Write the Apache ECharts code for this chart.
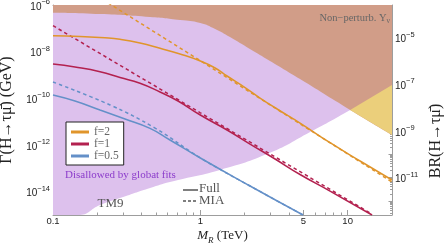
<!DOCTYPE html>
<html><head><meta charset="utf-8">
<script src="https://cdn.jsdelivr.net/npm/echarts@6/dist/echarts.min.js"></script>
<style>html,body{margin:0;padding:0;background:#fff}#c{width:446px;height:243px}</style>
</head><body><div id="c"></div>
<script>
const SANS = '"Liberation Sans", Arial, sans-serif';
const SERIF = '"Liberation Serif", "Times New Roman", serif';

// axis extents
const X_MIN = 0.1, X_MAX = 20, Y_MIN = 1e-15, Y_MAX = 1e-6;
const GAMMA_H = 4.07e-3; // total Higgs width (GeV): BR = Gamma / GAMMA_H

// ticks and tick labels
const xTickLabels = [0.1, 1, 5, 10];
const xMajorTicks = [0.1, 1, 5, 10];
const xMinorTicks = [0.2, 0.3, 0.4, 0.5, 0.6, 0.7, 0.8, 0.9, 2, 3, 4, 6, 7, 8, 9, 20];
const gammaTickLabels = [1e-14, 1e-12, 1e-10, 1e-8, 1e-6];
const gammaOddTicks = [1e-15, 1e-13, 1e-11, 1e-9, 1e-7];
const brTickLabels = [1e-11, 1e-9, 1e-7, 1e-5];
const brOtherTicks = [1e-12, 1e-10, 1e-8, 1e-6, 1e-4];

// series: [M_R (TeV), Gamma (GeV)]
const f2Full = [[0.1,4.83e-8],[0.1525,4.47e-8],[0.2254,3.93e-8],[0.285,3.39e-8],[0.3896,2.35e-8],[0.5326,1.39e-8],[0.728,7.94e-9],[1.0,3.98e-9],[1.26,2.0e-9],[1.518,9.06e-10],[2.012,2.91e-10],[2.543,1.03e-10],[3.317,3.49e-11],[4.753,8.75e-12],[7.596,1.25e-12],[12.14,2.06e-13],[20,3.16e-14]];
const f2MIA  = [[0.1,3.7e-5],[1,4.1e-9],[20,2.6e-14]];
const f1Full = [[0.1,2.96e-9],[0.141,2.2e-9],[0.2085,1.38e-9],[0.285,7.8e-10],[0.3896,4.4e-10],[0.5326,1.87e-10],[0.7057,7.67e-11],[1.0,1.93e-11],[1.518,4.39e-12],[2.175,1.1e-12],[3.215,2.51e-13],[4.753,5.43e-14],[7.596,1.06e-14],[14.65,1e-15]];
const f1MIA  = [[0.1,1.3e-7],[1,2.4e-11],[14.6,1.1e-15]];
const f05Full = [[0.1,1.39e-10],[0.141,7.67e-11],[0.2085,3.16e-11],[0.3083,1.3e-11],[0.4556,5.19e-12],[0.6225,1.64e-12],[1.0,2.77e-13],[2.175,1.75e-14],[4.98,1e-15]];
const f05MIA  = [[0.1,5.0e-10],[0.244,5.2e-11],[0.493,5.3e-12],[1.0,2.8e-13],[2.175,1.75e-14],[4.98,1e-15]];

// region boundaries: [M_R, Gamma]
const nonPerturbEdge = [[0.1,4.7e-7],[0.209,4.1e-7],[0.456,3.06e-7],[0.728,2.28e-7],[1.0,1.7e-7],[1.26,9.4e-8],[1.59,4.2e-8],[2.17,1.3e-8],[2.97,4.0e-9],[4.75,6.7e-10],[10.4,3.2e-11],[20,2.7e-12]];
const globalFitEdge = [[0.148,1e-15],[0.209,2.7e-15],[0.299,5.9e-15],[0.456,1.44e-14],[0.622,2.6e-14],[1.36,8.5e-14],[2.97,4.6e-13],[5.56,3.6e-12],[10.4,3.2e-11],[20,3.7e-10]];

const ORANGE = '#E0952B', CRIMSON = '#B3214F', BLUE = '#6490C8';
const PURPLE = '#DDC1ED', BROWN = '#D19D88', YELLOW = '#EBCF7B';
const AX = '#9d9d9d';

function minorDecadeTicks(lo, hi) {
  const out = [];
  for (let e = lo; e <= hi; e++) for (let k = 2; k <= 9; k++) out.push(+(k + 'e' + e));
  return out;
}

function expFmt(v) {
  const e = Math.round(Math.log10(v));
  return '{b|10}{s|' + (e < 0 ? '\u2212' : '') + Math.abs(e) + '}';
}
const expRich = {
  b: {fontSize: 10, fontFamily: SANS, color: '#222', verticalAlign: 'bottom', padding: [4, 0, 0, 0]},
  s: {fontSize: 7.5, fontFamily: SANS, color: '#222', verticalAlign: 'top'}
};

function xAx(position, ticks, len, labels, showLine) {
  return {
    type: 'log', logBase: 10, min: X_MIN, max: X_MAX, position,
    axisLine: {show: showLine, onZero: false, lineStyle: {color: AX, width: 1}},
    axisTick: {show: true, inside: true, length: len, customValues: ticks, lineStyle: {color: AX, width: 1}},
    axisLabel: labels ? {show: true, customValues: labels, margin: 1, fontSize: 9.5, fontFamily: SANS, color: '#222',
      formatter: v => String(+(+v).toPrecision(3))} : {show: false},
    splitLine: {show: false}, minorTick: {show: false}, minorSplitLine: {show: false}
  };
}
function yAx(position, min, max, ticks, len, labels, showLine) {
  return {
    type: 'log', logBase: 10, min, max, position,
    axisLine: {show: showLine, onZero: false, lineStyle: {color: AX, width: 1}},
    axisTick: {show: true, inside: true, length: len, customValues: ticks, lineStyle: {color: AX, width: 1}},
    axisLabel: labels ? {show: true, customValues: labels, margin: 3, formatter: expFmt, rich: expRich} : {show: false},
    splitLine: {show: false}, minorTick: {show: false}, minorSplitLine: {show: false}
  };
}

const BR_MIN = Y_MIN / GAMMA_H, BR_MAX = Y_MAX / GAMMA_H;

const xAxes = [
  xAx('bottom', xMajorTicks, 5, xTickLabels, true),
  xAx('bottom', xMinorTicks, 2.5, null, false),
  xAx('top', xMajorTicks, 5, null, true),
  xAx('top', xMinorTicks, 2.5, null, false)
];
Object.assign(xAxes[0], {
  name: '{i|M}{r|R}{n| (TeV)}', nameLocation: 'middle', nameGap: 14, nameMoveOverlap: false,
  nameTextStyle: {rich: {
    i: {fontFamily: SERIF, fontStyle: 'italic', fontSize: 13, color: '#222', verticalAlign: 'top'},
    r: {fontFamily: SERIF, fontStyle: 'italic', fontSize: 9, color: '#222', verticalAlign: 'bottom', padding: [7, 0, 0, 0]},
    n: {fontFamily: SERIF, fontSize: 13, color: '#222', verticalAlign: 'top'}
  }}
});

const yAxes = [
  yAx('left', Y_MIN, Y_MAX, gammaTickLabels, 5, gammaTickLabels, true),
  yAx('left', Y_MIN, Y_MAX, gammaOddTicks, 3.5, null, false),
  yAx('left', Y_MIN, Y_MAX, minorDecadeTicks(-16, -7), 2, null, false),
  yAx('right', BR_MIN, BR_MAX, brTickLabels, 5, brTickLabels, true),
  yAx('right', BR_MIN, BR_MAX, brOtherTicks, 3.5, null, false),
  yAx('right', BR_MIN, BR_MAX, minorDecadeTicks(-14, -5), 2, null, false)
];
Object.assign(yAxes[0], {
  name: '\u0393(H\u2192\u03C4\u03BC\u0304) (GeV)', nameLocation: 'middle', nameGap: 31, nameRotate: 90,
  nameTextStyle: {fontFamily: SERIF, fontSize: 16, color: '#222'}
});

// shaded region above a boundary curve (filled up to the top of the axis)
function regionAbove(name, pts, color) {
  return {
    type: 'line', name, data: pts, xAxisIndex: 0, yAxisIndex: 0, symbol: 'none', showSymbol: false,
    smooth: 0.5, silent: true, clip: true, z: 1,
    lineStyle: {width: 0, color}, itemStyle: {color},
    areaStyle: {color, opacity: 1, origin: 'end'}
  };
}
function polygonRegion(name, pts, color) {
  return {
    type: 'custom', name, silent: true, clip: true, coordinateSystem: 'cartesian2d',
    xAxisIndex: 0, yAxisIndex: 0, data: pts, encode: {x: 0, y: 1}, z: 1,
    renderItem: (params, api) => {
      if (params.dataIndex !== 0) return null;
      return {type: 'polygon', shape: {points: pts.map(p => api.coord(p))}, style: {fill: color}};
    }
  };
}
const purpleEdge = [[X_MIN, Y_MIN]].concat(globalFitEdge);
const yellowPoly = [globalFitEdge[globalFitEdge.length - 2], globalFitEdge[globalFitEdge.length - 1], nonPerturbEdge[nonPerturbEdge.length - 1]];

function line(name, data, color, dashed, smooth) {
  return {
    type: 'line', name, data, xAxisIndex: 0, yAxisIndex: 0, symbol: 'none', showSymbol: false,
    smooth: smooth, clip: true, z: 5,
    lineStyle: {color, width: 1.5, type: dashed ? [3.5, 3] : 'solid'}, itemStyle: {color}
  };
}

const chart = echarts.init(document.getElementById('c'), null, {renderer: 'canvas'});
chart.setOption({
  animation: false,
  backgroundColor: '#fff',
  grid: {left: 53, right: 54, top: 5, bottom: 28, containLabel: false, outerBoundsMode: 'none'},
  xAxis: xAxes,
  yAxis: yAxes,
  legend: {
    data: ['f=2', 'f=1', 'f=0.5'], orient: 'vertical', left: 66, top: 122,
    padding: [4, 5, 3, 5], itemGap: 0, itemWidth: 18, itemHeight: 3, icon: 'rect',
    backgroundColor: '#fff', borderColor: '#222', borderWidth: 1, borderRadius: 0, selectedMode: false,
    textStyle: {fontFamily: SERIF, fontSize: 11.5, color: '#666', lineHeight: 11}
  },
  series: [
    regionAbove('purple', purpleEdge, PURPLE),
    regionAbove('brown', nonPerturbEdge, BROWN),
    polygonRegion('yellow', yellowPoly, YELLOW),
    line('f=2 MIA', f2MIA, ORANGE, true, false),
    line('f=1 MIA', f1MIA, CRIMSON, true, false),
    line('f=0.5 MIA', f05MIA, BLUE, true, 0.4),
    line('f=2', f2Full, ORANGE, false, 0.5),
    line('f=1', f1Full, CRIMSON, false, 0.5),
    line('f=0.5', f05Full, BLUE, false, 0.5)
  ],
  graphic: [
    {type: 'text', x: 436, y: 141, rotation: Math.PI / 2, z: 100,
     style: {text: 'BR(H\u2192\u03C4\u03BC\u0304)', font: '16px ' + SERIF, fill: '#222', align: 'center', verticalAlign: 'middle'}},
    {type: 'text', x: 65, y: 175, z: 100,
     style: {text: 'Disallowed by globat fits', font: '11px ' + SERIF, fill: '#8C3CCB', align: 'left', verticalAlign: 'middle'}},
    {type: 'text', x: 110.5, y: 203.5, z: 100,
     style: {text: 'TM9', font: '13px ' + SERIF, fill: '#555', align: 'center', verticalAlign: 'middle'}},
    {type: 'line', z: 100, shape: {x1: 183, y1: 190, x2: 198, y2: 190}, style: {stroke: '#555', lineWidth: 1.5}},
    {type: 'line', z: 100, shape: {x1: 183, y1: 201, x2: 198, y2: 201}, style: {stroke: '#555', lineWidth: 1.5, lineDash: [3, 2]}},
    {type: 'text', x: 199, y: 188.5, z: 100,
     style: {text: 'Full', font: '13px ' + SERIF, fill: '#555', align: 'left', verticalAlign: 'middle'}},
    {type: 'text', x: 199, y: 200.5, z: 100,
     style: {text: 'MIA', font: '13px ' + SERIF, fill: '#555', align: 'left', verticalAlign: 'middle'}},
    {type: 'text', x: 390, y: 18.5, z: 100,
     style: {text: 'Non\u2212perturb. Y{sub|\u03BD}', font: '10.5px ' + SERIF, fill: '#666', align: 'right', verticalAlign: 'middle',
       rich: {sub: {fontFamily: SERIF, fontSize: 7.5, fill: '#666', verticalAlign: 'bottom', padding: [5, 0, 0, 0]}}}}
  ]
});
</script>
</body></html>
